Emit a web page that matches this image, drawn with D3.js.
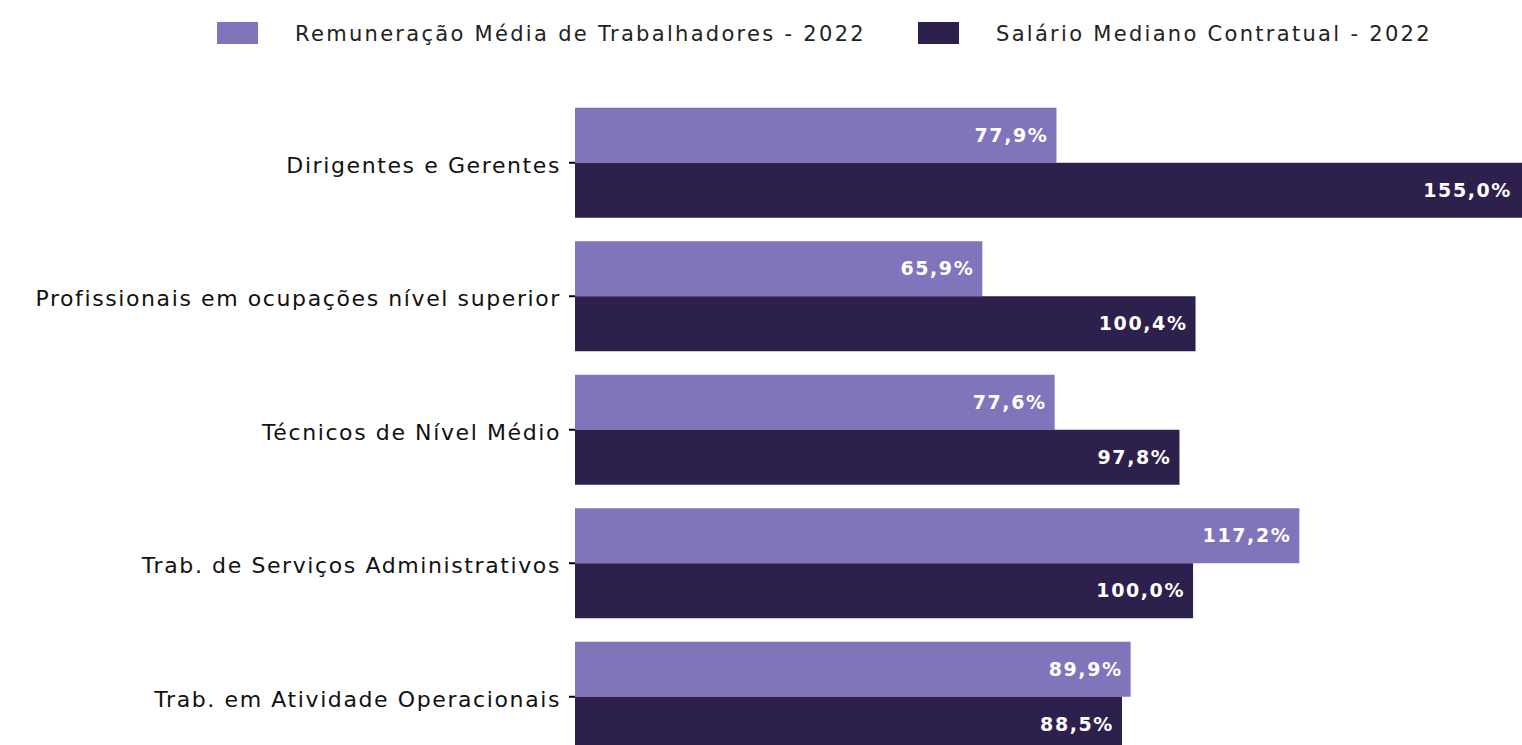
<!DOCTYPE html>
<html>
<head>
<meta charset="utf-8">
<script src="https://cdn.jsdelivr.net/npm/d3@7"></script>
<style>
  body { margin: 0; background: #fff; }
  svg { display: block; font-family: "DejaVu Sans", sans-serif; }
</style>
</head>
<body>
<div id="chart"></div>
<script>
// dados
var categorias = [
  'Dirigentes e Gerentes',
  'Profissionais em ocupações nível superior',
  'Técnicos de Nível Médio',
  'Trab. de Serviços Administrativos',
  'Trab. em Atividade Operacionais'
];
var remuneracaoMedia = [77.9, 65.9, 77.6, 117.2, 89.9];
var salarioMediano = [155.0, 100.4, 97.8, 100.0, 88.5];
var series = ['Remuneração Média de Trabalhadores - 2022', 'Salário Mediano Contratual - 2022'];
var cores = ['#8075bb', '#2e204c'];

var width = 1522;
var height = 745;

var margin = {top: 96, left: 575};

var svg = d3.select('#chart')
  .append('svg')
  .attr('width', width)
  .attr('height', height);

// escalas
var x = d3.scaleLinear()
  .domain([0, 155])
  .range([margin.left, margin.left + 958]);

var y = d3.scaleBand()
  .domain(categorias)
  .range([margin.top, margin.top + 133.5 * 5])
  .paddingInner(0.176)
  .paddingOuter(0.088);

var ySub = d3.scaleBand()
  .domain([0, 1])
  .range([0, y.bandwidth()]);

var linhas = categorias.map(function (c, i) {
  return {cat: c, valores: [remuneracaoMedia[i], salarioMediano[i]]};
});

var grupos = svg.selectAll('.grupo')
  .data(linhas)
  .enter().append('g')
  .attr('class', 'grupo')
  .attr('transform', function (d) { return 'translate(0,' + y(d.cat) + ')'; });

grupos.selectAll('rect')
  .data(function (d) { return d.valores; })
  .enter().append('rect')
  .attr('x', x(0))
  .attr('y', function (d, i) { return ySub(i); })
  .attr('width', function (d) { return x(d) - x(0); })
  .attr('height', ySub.bandwidth())
  .attr('fill', function (d, i) { return cores[i]; });

grupos.selectAll('text.valor')
  .data(function (d) { return d.valores; })
  .enter().append('text')
  .attr('class', 'valor')
  .attr('x', function (d) { return Math.min(x(d), width - 2) - 8; })
  .attr('y', function (d, i) { return ySub(i) + ySub.bandwidth() / 2; })
  .attr('dy', '0.35em')
  .attr('text-anchor', 'end')
  .attr('fill', '#fff')
  .attr('font-weight', 'bold')
  .attr('font-size', 19)
  .attr('letter-spacing', 1.6)
  .text(function (d) { return d.toFixed(1).replace('.', ',') + '%'; });

// eixo y
var eixoY = svg.append('g')
  .attr('transform', 'translate(' + margin.left + ',0)')
  .call(d3.axisLeft(y).tickSize(6).tickPadding(8));
eixoY.select('.domain').remove();
eixoY.selectAll('.tick line').attr('stroke', '#000').attr('stroke-width', 2);
eixoY.selectAll('.tick text')
  .attr('font-size', 22)
  .attr('dy', '0.45em')
  .attr('letter-spacing', 1.6)
  .attr('font-family', '"DejaVu Sans", sans-serif')
  .attr('fill', '#111');

// legenda
var legX = [217, 918];
var legenda = svg.selectAll('.legenda')
  .data(series)
  .enter().append('g')
  .attr('class', 'legenda')
  .attr('transform', function (d, i) { return 'translate(' + legX[i] + ',22)'; });

legenda.append('rect')
  .attr('width', 41)
  .attr('height', 22)
  .attr('fill', function (d, i) { return cores[i]; });

legenda.append('text')
  .attr('x', 78)
  .attr('y', 11)
  .attr('dy', '0.38em')
  .attr('font-size', 21)
  .attr('letter-spacing', 2.3)
  .attr('fill', '#222')
  .text(function (d) { return d; });
</script>
</body>
</html>
